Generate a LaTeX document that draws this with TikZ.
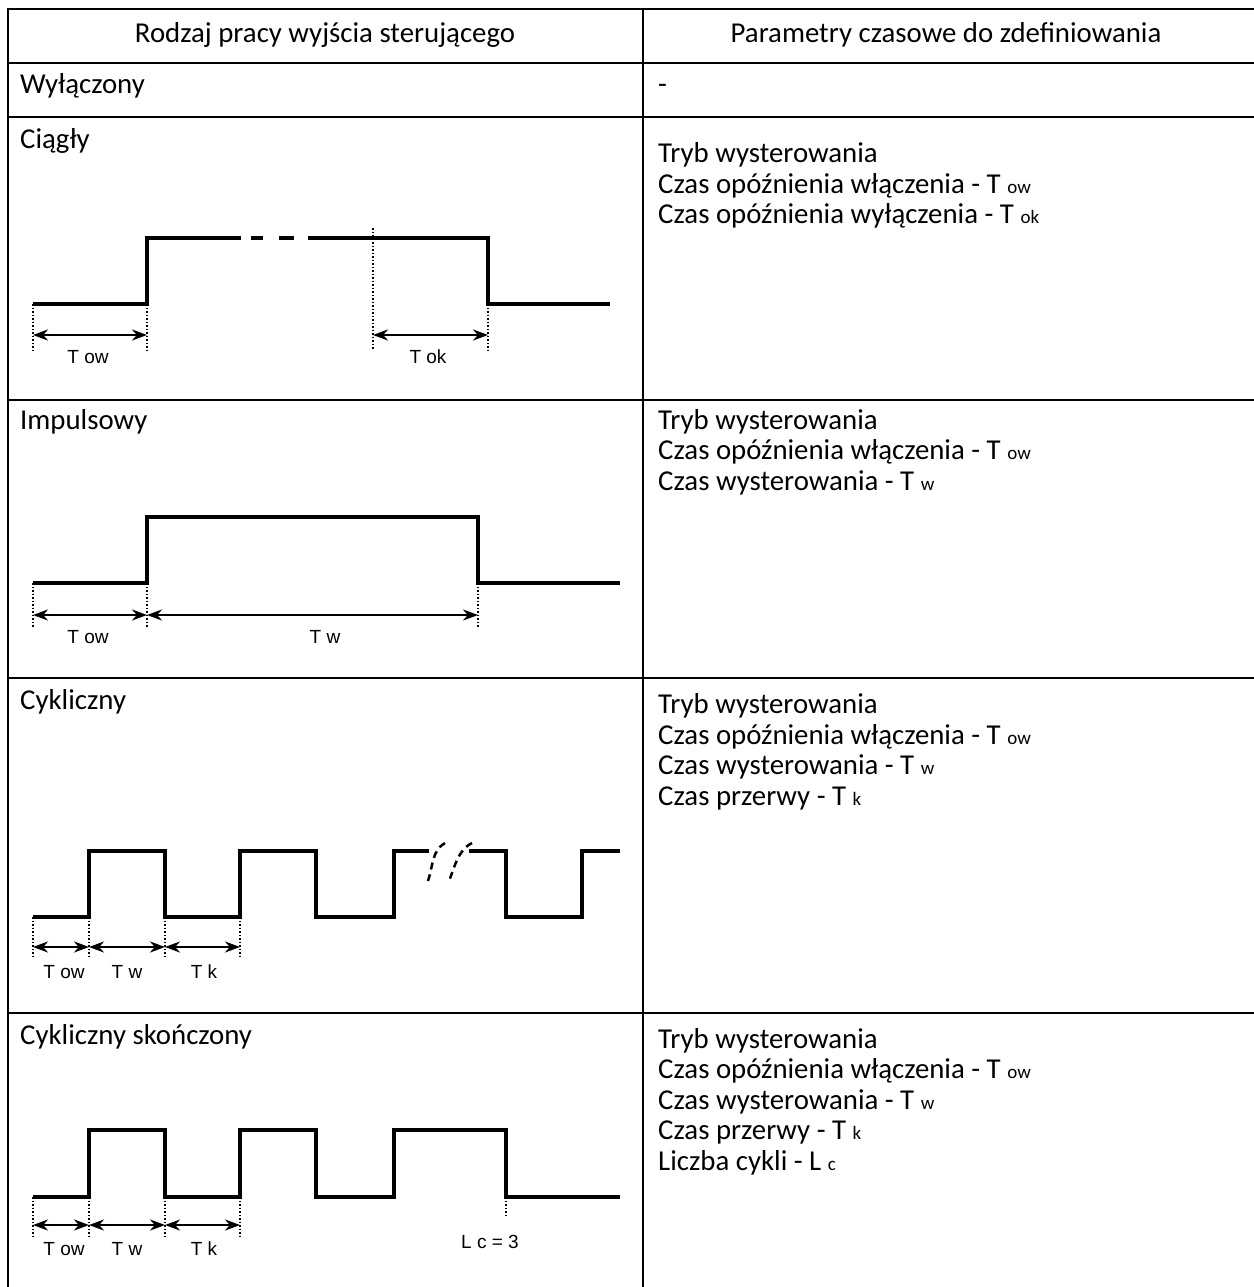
\documentclass[tikz,border=0pt]{standalone}
\usepackage{fontspec}
\setmainfont{Carlito}
\newfontfamily\wavefont{Liberation Sans}
\usetikzlibrary{arrows.meta}
\newcommand{\lo}[1]{{\fontsize{19}{20}\selectfont #1}}

\begin{document}
\begin{tikzpicture}[x=1pt,y=-1pt,
    txt/.style={anchor=base west,inner sep=0pt,font=\fontsize{28.8}{30}\selectfont},
    wave/.style={line width=4.2pt},
    guide/.style={dotted,line width=1.5pt},
    dimarrow/.style={{Stealth[length=15pt,width=11pt]}-{Stealth[length=15pt,width=11pt]},line width=2.4pt},
    brk/.style={dash pattern=on 7pt off 5pt,line width=2.5pt},
    lbl/.style={inner sep=0pt,font=\wavefont\fontsize{19}{20}\selectfont}]

    \useasboundingbox (0,0) rectangle (1253,1287);

    % table
    \draw[line width=2.5pt] (8,9) rectangle (1262,1297);
    \foreach \y in {63,117,400,678,1013}
        \draw[line width=2.5pt] (8,\y) -- (1262,\y);
    \draw[line width=2.5pt] (643,9) -- (643,1297);

    \node[txt,anchor=base] (head1) at (325,43) {Rodzaj pracy wyjścia sterującego};
    \node[txt,anchor=base] (head2) at (946,43) {Parametry czasowe do zdefiniowania};

    \node[txt] (mode1) at (20,94) {Wyłączony};
    \node[txt] (par1) at (658,94) {-};

    \node[txt] (mode2) at (20,148) {Ciągły};
    \foreach \t [count=\i] in {Tryb wysterowania, {Czas opóźnienia włączenia - T \lo{ow}}, {Czas opóźnienia wyłączenia - T \lo{ok}}}
        \node[txt] (par2\i) at (658,132+30.5*\i) {\t};

    \node[txt] (mode3) at (20,429) {Impulsowy};
    \foreach \t [count=\i] in {Tryb wysterowania, {Czas opóźnienia włączenia - T \lo{ow}}, {Czas wysterowania - T \lo{w}}}
        \node[txt] (par3\i) at (658,398.5+30.5*\i) {\t};

    \node[txt] (mode4) at (20,709) {Cykliczny};
    \foreach \t [count=\i] in {Tryb wysterowania, {Czas opóźnienia włączenia - T \lo{ow}}, {Czas wysterowania - T \lo{w}}, {Czas przerwy - T \lo{k}}}
        \node[txt] (par4\i) at (658,683+30.5*\i) {\t};

    \node[txt] (mode5) at (20,1044) {Cykliczny skończony};
    \foreach \t [count=\i] in {Tryb wysterowania, {Czas opóźnienia włączenia - T \lo{ow}}, {Czas wysterowania - T \lo{w}}, {Czas przerwy - T \lo{k}}, {Liczba cykli - L \lo{c}}}
        \node[txt] (par5\i) at (658,1017.5+30.5*\i) {\t};

    % ciagly
    \draw[wave] (33,304) -- (147,304) -- (147,238) -- (241,238);
    \draw[wave] (251,238) -- (263,238) (279,238) -- (294,238);
    \draw[wave] (308,238) -- (488,238) -- (488,304) -- (610,304);
    \foreach \x in {33,147,488}
        \draw[guide] (\x,304) -- (\x,350);
    \draw[guide] (373,228) -- (373,350);
    \draw[dimarrow] (33,335) -- (147,335);
    \draw[dimarrow] (373,335) -- (488,335);
    \node[lbl] (tow2) at (88,357) {T ow};
    \node[lbl] (tok2) at (428,357) {T ok};

    % impulsowy
    \draw[wave] (33,583) -- (147,583) -- (147,517) -- (478,517) -- (478,583) -- (620,583);
    \foreach \x in {33,147,478}
        \draw[guide] (\x,583) -- (\x,627);
    \draw[dimarrow] (33,615) -- (147,615);
    \draw[dimarrow] (147,615) -- (478,615);
    \node[lbl] (tow3) at (88,637) {T ow};
    \node[lbl] (tw3) at (325,637) {T w};

    % cykliczny
    \draw[wave] (33,917) -- (89,917) -- (89,851) -- (165,851) -- (165,917) -- (240,917) -- (240,851)
        -- (316,851) -- (316,917) -- (394,917) -- (394,851) -- (429,851);
    \draw[wave] (469,851) -- (506,851) -- (506,917) -- (582,917) -- (582,851) -- (620,851);
    \draw[brk] (445,843) .. controls (432,850) and (433,866) .. (428,881);
    \draw[brk] (472,843) .. controls (458,850) and (455,866) .. (449,881);
    \foreach \x in {33,89,165,240}
        \draw[guide] (\x,917) -- (\x,957);
    \draw[dimarrow] (33,947) -- (89,947);
    \draw[dimarrow] (89,947) -- (165,947);
    \draw[dimarrow] (165,947) -- (240,947);
    \node[lbl] (tow4) at (64,972) {T ow};
    \node[lbl] (tw4) at (127,972) {T w};
    \node[lbl] (tk4) at (204,972) {T k};

    % cykliczny skonczony
    \draw[wave] (33,1197) -- (89,1197) -- (89,1130) -- (165,1130) -- (165,1197) -- (240,1197) -- (240,1130)
        -- (316,1130) -- (316,1197) -- (394,1197) -- (394,1130) -- (506,1130) -- (506,1197) -- (620,1197);
    \foreach \x in {33,89,165,240}
        \draw[guide] (\x,1197) -- (\x,1237);
    \draw[guide] (506,1197) -- (506,1216);
    \draw[dimarrow] (33,1225) -- (89,1225);
    \draw[dimarrow] (89,1225) -- (165,1225);
    \draw[dimarrow] (165,1225) -- (240,1225);
    \node[lbl] (tow5) at (64,1249) {T ow};
    \node[lbl] (tw5) at (127,1249) {T w};
    \node[lbl] (tk5) at (204,1249) {T k};
    \node[lbl] (lc5) at (490,1242) {L c = 3};
\end{tikzpicture}
\end{document}
